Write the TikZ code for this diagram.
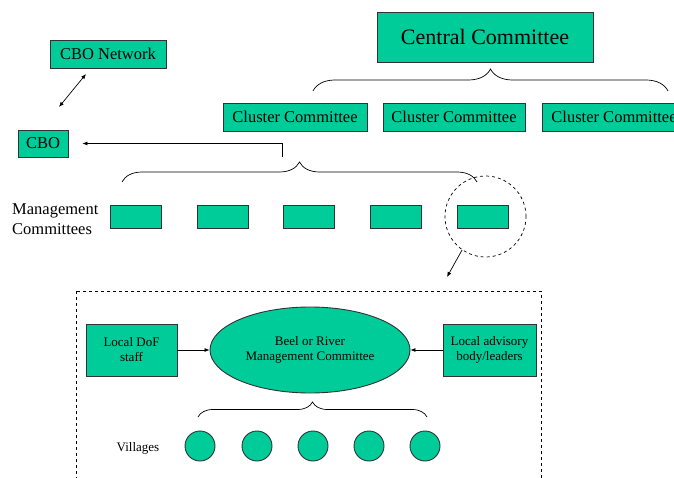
\documentclass[tikz,border=0pt]{standalone}
\usepackage{fontspec}
\setmainfont{Liberation Serif}
\usetikzlibrary{shapes.geometric,arrows.meta,decorations.pathreplacing}
\definecolor{boxgreen}{RGB}{0,204,153}
\definecolor{edgegray}{RGB}{50,50,50}
\begin{document}
\begin{tikzpicture}[x=1pt,y=1pt,
  gbox/.style={draw=edgegray,line width=0.9pt,fill=boxgreen,inner sep=0pt,align=center},
  big/.style={font=\fontsize{22}{26}\selectfont},
  mid/.style={font=\fontsize{16.5}{20}\selectfont},
  small/.style={font=\fontsize{13}{15}\selectfont},
  link/.style={line width=0.7pt,-{Latex[length=5pt,width=4pt]}},
  curly/.style={line width=0.7pt,decorate,decoration={brace,amplitude=#1}},
  zone/.style={dashed,line width=0.7pt}]
\useasboundingbox (0,0) rectangle (674,-478);

% upper tier
\node[gbox,big,minimum width=216,minimum height=50] (central) at (485,-37) {Central Committee};
\node[gbox,mid,minimum width=144,minimum height=28] (cl1) at (295,-117) {Cluster Committee};
\node[gbox,mid,minimum width=142,minimum height=28] (cl2) at (454,-117) {Cluster Committee};
\node[gbox,mid,minimum width=144,minimum height=28] (cl3) at (614,-117) {Cluster Committee};
\draw[curly=22] (313,-91) -- (668,-91);

% CBO and its network
\node[gbox,mid,minimum width=116,minimum height=28] (net) at (108,-54) {CBO Network};
\node[gbox,mid,minimum width=50,minimum height=27] (cbo) at (43,-143.5) {CBO};
\coordinate (netEnd) at (86,-74);
\coordinate (cboEnd) at (59,-107);
\draw[line width=0.7pt,{Latex[length=5pt,width=4pt]}-{Latex[length=5pt,width=4pt]}] (cboEnd) -- (netEnd);

% management committees
\node[mid,anchor=west,align=left,inner sep=0pt] (mclabel) at (12,-219) {Management\\Committees};
\foreach \i/\x in {1/135.5,2/222.5,3/309,4/396,5/482.5}
  \node[gbox,minimum width=51,minimum height=23] (mc\i) at (\x,-216.5) {};
\draw[curly=20] (122,-182) -- (477,-182);
\coordinate (mcTop) at (282,-157);
\draw[link,shorten >=14pt] (mcTop) |- (cbo.east);

% highlighted committee
\node[draw,zone,circle,minimum size=81] (focus) at (485.5,-216.5) {};
\coordinate (detailTop) at (447,-277);
\draw[link] (focus.-125) -- (detailTop);

% detail panel
\draw[zone] (76,-291) rectangle (541,-500);
\node[gbox,small,minimum width=91,minimum height=52] (dof) at (131.5,-350) {Local DoF\\staff};
\node[gbox,small,ellipse,minimum width=200,minimum height=86] (bmc) at (310,-350) {Beel or River\\Management Committee};
\node[gbox,small,minimum width=93,minimum height=52] (adv) at (489.5,-350) {Local advisory\\body/leaders};
\draw[link] (dof) -- (bmc);
\draw[link] (adv) -- (bmc);
\draw[curly=15] (198,-417) -- (427,-417);
\node[small] (vlabel) at (138,-448) {Villages};
\foreach \i/\x in {1/200,2/257,3/313,4/369,5/425}
  \node[gbox,circle,minimum size=30] (v\i) at (\x,-446) {};
\end{tikzpicture}
\end{document}
